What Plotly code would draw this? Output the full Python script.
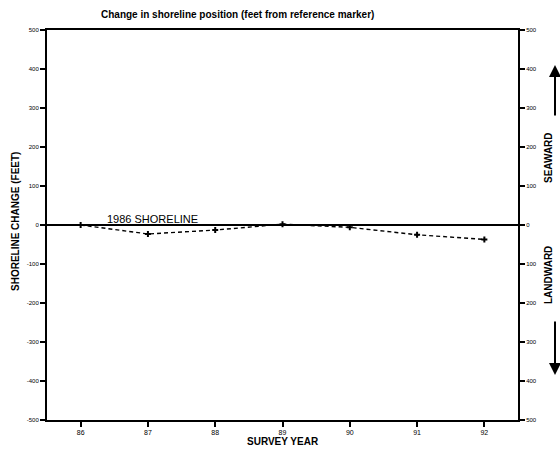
import plotly.graph_objects as go

years = [86, 87, 88, 89, 90, 91, 92]
year_labels = ["86", "87", "88", "89", "90", "91", "92"]
change_ft = [0, -23, -13, 2, -6, -25, -37]

left_ticks = [500, 400, 300, 200, 100, 0, -100, -200, -300, -400, -500]
left_labels = ["500", "400", "300", "200", "100", "0", "-100", "-200", "-300", "-400", "-500"]
right_labels = ["500", "400", "300", "200", "100", "0", "100", "200", "300", "400", "500"]

FONT = "Liberation Sans, Arial, sans-serif"

fig = go.Figure()
fig.add_trace(go.Scatter(
    x=years, y=change_ft, mode="lines+markers",
    line=dict(color="black", width=1.4, dash="4px,3px"),
    marker=dict(symbol="cross", size=5, color="black"),
    showlegend=False,
))
# invisible trace to carry the right axis
fig.add_trace(go.Scatter(x=[years[0]], y=[0], yaxis="y2", mode="markers",
                         marker=dict(opacity=0), showlegend=False, hoverinfo="skip"))

fig.add_hline(y=0, line=dict(color="black", width=2))

fig.update_layout(
    width=560, height=455, autosize=False,
    margin=dict(l=47, r=42, t=30, b=35),
    plot_bgcolor="white", paper_bgcolor="white",
    font=dict(family=FONT, color="black"),
    xaxis=dict(range=[85.5, 92.5], tickvals=years, ticktext=year_labels,
               ticks="outside", ticklen=5, tickwidth=1.5, tickcolor="black",
               showline=True, linecolor="black", linewidth=2, mirror=True,
               showgrid=False, zeroline=False,
               tickfont=dict(size=7, family=FONT)),
    yaxis=dict(range=[-500, 500], tickvals=left_ticks, ticktext=left_labels,
               ticks="outside", ticklen=5, tickwidth=1.5, tickcolor="black",
               showline=True, linecolor="black", linewidth=2, mirror=True,
               showgrid=False, zeroline=False,
               tickfont=dict(size=6, family=FONT)),
    yaxis2=dict(range=[-500, 500], tickvals=left_ticks, ticktext=right_labels,
                overlaying="y", side="right",
                ticks="outside", ticklen=5, tickwidth=1.5, tickcolor="black",
                showline=True, linecolor="black", linewidth=2,
                showgrid=False, zeroline=False,
                tickfont=dict(size=6, family=FONT)),
)

ann = []
ann.append(dict(text="<b>Change in shoreline position (feet from reference marker)</b>",
                xref="paper", yref="paper", x=(237 - 47) / 471, y=(420 - 15) / 390,
                xanchor="center", yanchor="middle", showarrow=False,
                font=dict(size=10, family=FONT)))
ann.append(dict(text="<b>SURVEY YEAR</b>", xref="paper", yref="paper",
                x=(283 - 47) / 471, y=(420 - 441) / 390, xanchor="center", yanchor="middle",
                showarrow=False, font=dict(size=10, family=FONT)))
ann.append(dict(text="<b>SHORELINE CHANGE (FEET)</b>", xref="paper", yref="paper",
                x=(15 - 47) / 471, y=(420 - 222) / 390, xanchor="center", yanchor="middle",
                textangle=-90, showarrow=False, font=dict(size=10, family=FONT)))
ann.append(dict(text="1986 SHORELINE", xref="x", yref="y", x=86.36, y=0,
                xanchor="left", yanchor="bottom", yshift=-2, showarrow=False,
                font=dict(size=11, family=FONT)))
ann.append(dict(text="<b>SEAWARD</b>", xref="paper", yref="paper",
                x=(548 - 47) / 471, y=(420 - 158) / 390, xanchor="center", yanchor="middle",
                textangle=-90, showarrow=False, font=dict(size=10, family=FONT)))
ann.append(dict(text="<b>LANDWARD</b>", xref="paper", yref="paper",
                x=(548 - 47) / 471, y=(420 - 275) / 390, xanchor="center", yanchor="middle",
                textangle=-90, showarrow=False, font=dict(size=10, family=FONT)))
# arrows
ann.append(dict(text="", xref="paper", yref="paper",
                x=(555 - 47) / 471, y=(420 - 65) / 390, ax=0, ay=52,
                showarrow=True, arrowhead=2, arrowsize=1.2, arrowwidth=2, arrowcolor="black"))
ann.append(dict(text="", xref="paper", yref="paper",
                x=(555 - 47) / 471, y=(420 - 375) / 390, ax=0, ay=-55,
                showarrow=True, arrowhead=2, arrowsize=1.2, arrowwidth=2, arrowcolor="black"))
fig.update_layout(annotations=ann)

fig.write_html("out.html", config={"displayModeBar": False},
               post_script="document.body.style.margin='0';document.body.style.padding='0';")
